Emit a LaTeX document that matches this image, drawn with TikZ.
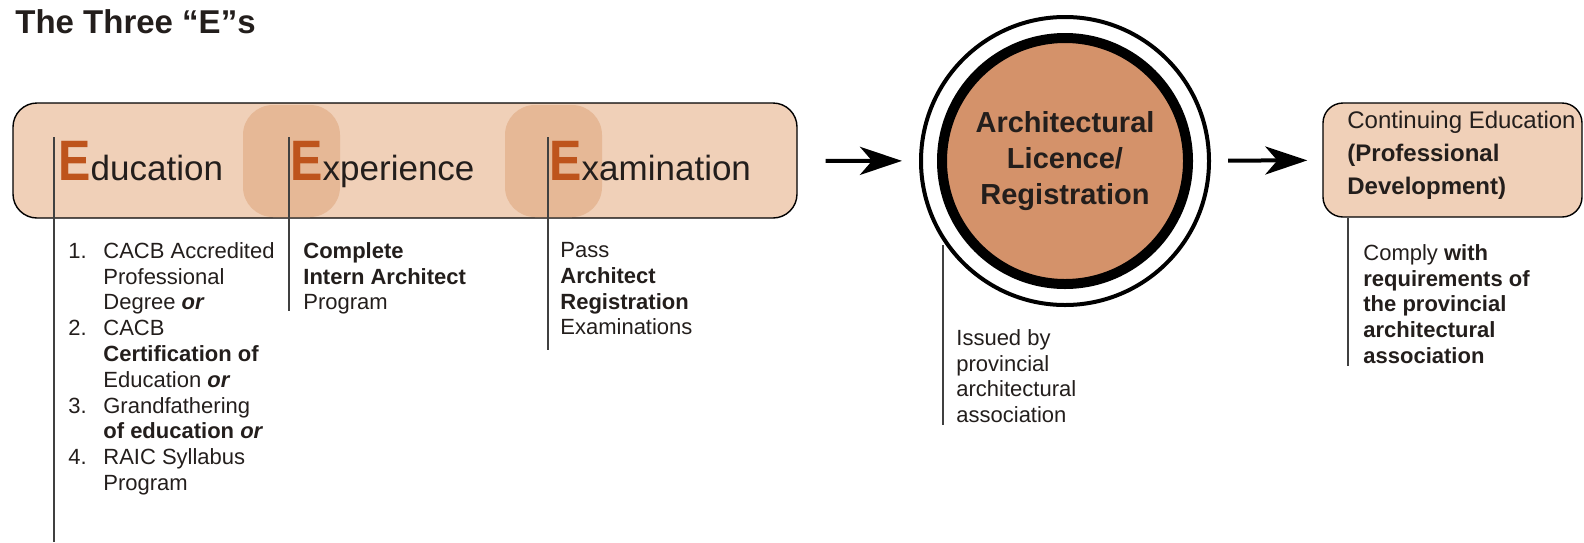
\documentclass[tikz,border=0pt]{standalone}
\usepackage{fontspec}
\setmainfont{Liberation Sans}
\newfontfamily\bigEfont{Liberation Sans}[FakeStretch=0.85]
\usetikzlibrary{arrows.meta}

\definecolor{bandpeach}{RGB}{240,208,184}
\definecolor{shadepeach}{RGB}{230,184,150}
\definecolor{licorange}{RGB}{212,146,106}
\definecolor{ebrown}{RGB}{190,84,28}
\definecolor{inktext}{RGB}{35,30,28}

\newcommand\bigE[1]{{\bigEfont\bfseries\fontsize{28.5}{30}\selectfont\color{ebrown}#1}}
\newcommand\lnum[1]{\makebox[17.5pt][l]{#1}}
\newcommand\lgap{\hspace*{17.5pt}}
\newcommand\orword{\textbf{\textit{or}}}

\begin{document}
\begin{tikzpicture}[
  x = 0.5pt, y = -0.5pt,
  band/.style={draw=black, line width=0.7pt, fill=bandpeach, rounded corners=12pt, inner sep=0pt},
  eshade/.style={fill=shadepeach, rounded corners=15pt},
  lead/.style={draw=black!75, line width=0.6pt},
  flow/.style={-{Stealth[length=21pt, width=14pt, inset=6pt]}, line width=2pt},
  ehead/.style={anchor=base west, inner sep=0pt, text=inktext, font=\fontsize{17.5}{20}\selectfont},
  note/.style={anchor=north west, align=left, inner sep=0pt, text=inktext, font=\fontsize{11}{12.9}\selectfont},
  ring/.style={circle, draw=black, line width=2pt, minimum size=144pt, inner sep=0pt},
  disc/.style={circle, draw=black, fill=licorange, line width=5pt, minimum size=123pt, inner sep=0pt,
               align=center, text=inktext, font=\bfseries\fontsize{14.5}{18.2}\selectfont}
]
\useasboundingbox (0,0) rectangle (1584,542);

%title
\node[anchor=base west, inner sep=0pt, text=inktext, font=\bfseries\fontsize{16.5}{20}\selectfont] (title) at (15,33) {The Three “E”s};

%band with the three E's
\node[band, minimum width=392pt, minimum height=57.5pt] (threeE) at (405,160.5) {};
\fill[eshade] (243,105) rectangle (340,217);
\fill[eshade] (505,105) rectangle (602,217);

%leader lines
\coordinate (eduTop) at (54,137);   \coordinate (eduEnd) at (54,542);
\coordinate (expTop) at (289,137);  \coordinate (expEnd) at (289,311);
\coordinate (examTop) at (548,137); \coordinate (examEnd) at (548,350);
\draw[lead] (eduTop) -- (eduEnd);
\draw[lead] (expTop) -- (expEnd);
\draw[lead] (examTop) -- (examEnd);

%headings
\node[ehead] (edu)  at (58,180)  {\bigE{E}ducation};
\node[ehead] (exp)  at (290,180) {\bigE{E}xperience};
\node[ehead] (exam) at (549,180) {\bigE{E}xamination};

%requirements under each E
\node[note] (eduList) at (68,242) {\lnum{1.}CACB Accredited\\
  \lgap Professional\\
  \lgap Degree \orword\\
  \lnum{2.}CACB\\
  \lgap\textbf{Certification of}\\
  \lgap Education \orword\\
  \lnum{3.}Grandfathering\\
  \lgap\textbf{of education} \orword\\
  \lnum{4.}RAIC Syllabus\\
  \lgap Program};
\node[note] (expList) at (303,242) {\textbf{Complete}\\\textbf{Intern Architect}\\Program};
\node[note] (examList) at (560,242) {Pass\\\textbf{Architect}\\\textbf{Registration}\\Examinations};

%licence circle
\node[ring] (licence) at (1065,161) {};
\node[disc] (licenceIn) at (licence.center) {Architectural\\Licence/\\Registration};
\coordinate (licTop) at (943,245); \coordinate (licEnd) at (943,425);
\draw[lead] (licTop) -- (licEnd);
\node[note] (issued) at (956,329) {Issued by\\provincial\\architectural\\association};

%continuing education
\node[band, minimum width=129.5pt, minimum height=57pt, rounded corners=10pt] (contEd) at (1452.5,160) {};
\node[anchor=north west, align=left, inner sep=0pt, text=inktext, font=\fontsize{12}{16.5}\selectfont] (contEdText) at (1347,111)
  {Continuing Education\\\textbf{(Professional}\\\textbf{Development)}};
\coordinate (contTop) at (1348,218); \coordinate (contEnd) at (1348,366);
\draw[lead] (contTop) -- (contEnd);
\node[note] (comply) at (1363,244) {Comply \textbf{with}\\\textbf{requirements of}\\\textbf{the provincial}\\\textbf{architectural}\\\textbf{association}};

%arrows
\draw[flow, shorten <=14pt, shorten >=8.5pt] (threeE) -- (licence);
\draw[flow, shorten <=8.5pt, shorten >=7.5pt] (licence) -- (contEd);

\end{tikzpicture}
\end{document}
